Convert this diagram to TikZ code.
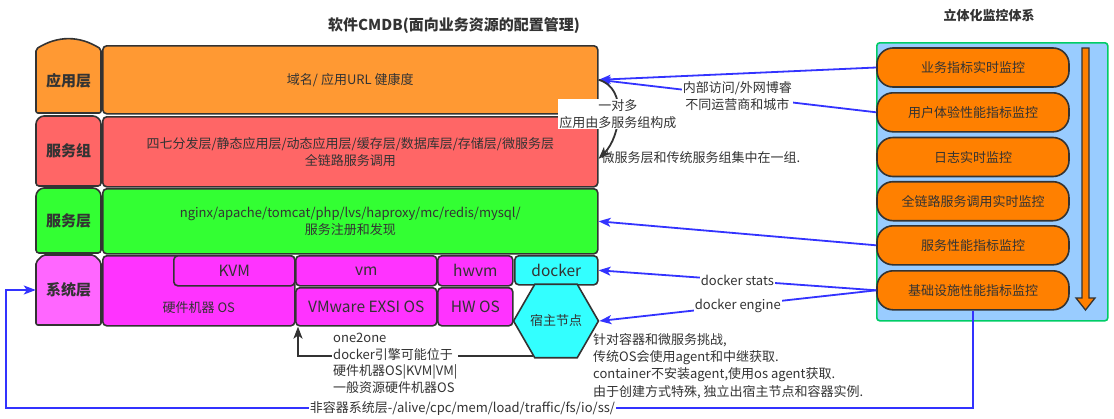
\documentclass[tikz,border=0pt]{standalone}
\usepackage{fontspec}
\setmainfont{Noto Sans CJK SC}
\usetikzlibrary{arrows.meta,shapes.geometric}
\definecolor{cmInk}{HTML}{333333}
\definecolor{cmApp}{HTML}{FF9933}
\definecolor{cmGroup}{HTML}{FF6666}
\definecolor{cmSvc}{HTML}{33FF33}
\definecolor{cmSys}{HTML}{FF33FF}
\definecolor{cmSysTab}{HTML}{FF66FF}
\definecolor{cmDock}{HTML}{33FFFF}
\definecolor{cmMon}{HTML}{FF8000}
\definecolor{cmPanel}{HTML}{99CCFF}
\definecolor{cmPanelEdge}{HTML}{00CC66}
\definecolor{cmLink}{HTML}{3333FF}
\tikzset{
  cm body/.style={font=\fontsize{13}{16.5}\selectfont, text=cmInk},
  cm box/.style={draw=cmInk, line width=1.6pt, rounded corners=4pt, anchor=north west, inner sep=0pt, align=center, cm body},
  cm big/.style={font=\fontsize{15.5}{18}\selectfont, text=cmInk},
  cm tab/.style={draw=cmInk, line width=1.6pt},
  cm tab label/.style={font=\fontsize{15}{18}\selectfont\bfseries, text=cmInk, minimum width=65pt, inner sep=0pt},
  cm mon/.style={draw=cmInk, fill=cmMon, line width=1.6pt, rounded corners=16pt, minimum width=192pt, minimum height=39pt, inner sep=0pt, cm body},
  cm link/.style={draw=cmLink, line width=1.8pt, -{Stealth[length=12pt,width=9pt,inset=3pt]}},
  cm gray link/.style={draw=cmInk, line width=1.8pt, -{Stealth[length=12pt,width=9pt,inset=3pt]}},
  cm note/.style={cm body, fill=white, inner sep=1pt, align=center},
}
\begin{document}
\begin{tikzpicture}[x=1pt,y=-1pt]
\useasboundingbox(0,0)rectangle(1114,418);
\node[font=\fontsize{15}{18}\selectfont\bfseries,text=cmInk](title)at(454,26){软件CMDB(面向业务资源的配置管理)};
\node[font=\fontsize{13}{16}\selectfont\bfseries,text=cmInk](monTitle)at(989,15){立体化监控体系};
\draw[cm tab,fill=cmApp,rounded corners=2pt](36,49)..controls(58,35.5)and(79,35.5)..(101,49)--(101,113)--(36,113)--cycle;
\draw[cm tab,fill=cmGroup,rounded corners=3pt](36,186)--(36,121)--(41,116)--(96,116)--(101,121)--(101,186)--cycle;
\draw[cm tab,fill=cmSvc,rounded corners=3pt](36,253)--(36,193)--(41,188)--(96,188)--(101,193)--(101,253)--cycle;
\draw[cm tab,fill=cmSysTab,rounded corners=2pt](36,325)--(36,262)--(43,255)--(94,255)--(101,262)--(101,325)--cycle;
\node[cm tab label,minimum height=64pt](tApp)at(68.5,81){应用层};
\node[cm tab label,minimum height=70pt](tGroup)at(68.5,151){服务组};
\node[cm tab label,minimum height=65pt](tSvc)at(68.5,220.5){服务层};
\node[cm tab label,minimum height=70pt](tSys)at(68.5,290){系统层};
\node[cm box,fill=cmApp,minimum width=495pt,minimum height=68pt](app)at(102,45){域名/ 应用URL 健康度};
\node[cm box,fill=cmGroup,minimum width=495pt,minimum height=70pt](grp)at(102,116){四七分发层/静态应用层/动态应用层/缓存层/数据库层/存储层/微服务层\\全链路服务调用};
\node[cm box,fill=cmSvc,minimum width=495pt,minimum height=65pt](svc)at(102,188){nginx/apache/tomcat/php/lvs/haproxy/mc/redis/mysql/\\服务注册和发现};
\node[cm box,fill=cmSys,minimum width=192pt,minimum height=70pt,label={[cm body,yshift=-17pt]center:硬件机器 OS}](hwos)at(102,255){};
\node[cm box,cm big,fill=cmSys,minimum width=121pt,minimum height=30pt](kvm)at(173,255){KVM};
\node[cm box,cm big,fill=cmSys,minimum width=141pt,minimum height=30pt](vm)at(295,255){vm};
\node[cm box,cm big,fill=cmSys,minimum width=75pt,minimum height=30pt](hwvm)at(437,255){hwvm};
\node[cm box,cm big,fill=cmDock,minimum width=83pt,minimum height=29pt](docker)at(514,255){docker};
\node[cm box,cm big,fill=cmSys,minimum width=141pt,minimum height=38pt](vmos)at(295,287){VMware EXSI OS};
\node[cm box,cm big,fill=cmSys,minimum width=75pt,minimum height=38pt](hwvmos)at(437,287){HW OS};
\node[regular polygon,regular polygon sides=6,draw=cmInk,fill=cmDock,line width=1.6pt,minimum size=82pt,inner sep=0pt,cm body](host)at(556,321){宿主节点};
\node[draw=cmPanelEdge,fill=cmPanel,line width=1.6pt,rounded corners=3pt,minimum width=231pt,minimum height=278pt,anchor=north west](panel)at(876,42){};
\node[cm mon](m1)at(973,67.5){业务指标实时监控};
\node[cm mon](m2)at(973,112.3){用户体验性能指标监控};
\node[cm mon](m3)at(973,157){日志实时监控};
\node[cm mon](m4)at(973,201.2){全链路服务调用实时监控};
\node[cm mon](m5)at(973,245.3){服务性能指标监控};
\node[cm mon](m6)at(973,290.3){基础设施性能指标监控};
\draw[draw=cmInk,fill=cmMon,line width=1.3pt](1082,48)--(1089,48)--(1089,298)--(1095,298)--(1085.5,310)--(1076,298)--(1082,298)--cycle;
\draw[cm link](m1.west)--(app.east);
\draw[cm link](m2.west)--node[cm note]{内部访问/外网博睿\\不同运营商和城市}(app.east);
\draw[cm link](m5.west)--(svc.east);
\draw[cm link](m6.west)--node[cm note]{docker stats}(docker.east);
\draw[cm link](m6.west)--node[cm note]{docker engine}(host.east);
\draw[cm gray link](app.east)to[out=-15,in=45]node[cm note]{一对多\\应用由多服务组构成}([yshift=-7pt]grp.east);
\node[cm body,anchor=west](grpNote)at(598,158){微服务层和传统服务组集中在一组.};
\draw[cm gray link](host.-124)-|([xshift=3pt]vmos.south west);
\node[cm body,fill=white,align=left,anchor=west,inner sep=1pt](dockNote)at(332,363.5){one2one\\docker引擎可能位于\\硬件机器OS|KVM|VM|\\一般资源硬件机器OS};
\node[font=\fontsize{13}{17.3}\selectfont,text=cmInk,align=left,anchor=west,inner sep=0pt](hostNote)at(593,366){针对容器和微服务挑战,\\传统OS会使用agent和中继获取.\\container不安装agent,使用os agent获取.\\由于创建方式特殊, 独立出宿主节点和容器实例.};
\coordinate(loopL)at(6,408);
\draw[cm link](m6.south)|-node[cm note,pos=0.764]{非容器系统层-/alive/cpc/mem/load/traffic/fs/io/ss/}(loopL)|-(tSys.west);
\end{tikzpicture}
\end{document}
